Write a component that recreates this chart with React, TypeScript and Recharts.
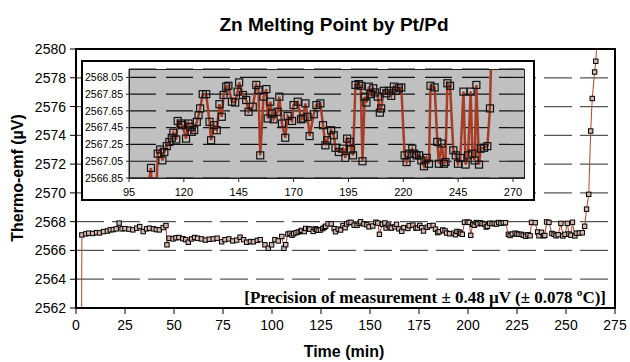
import React from 'react';
import { LineChart, Line, XAxis, YAxis, CartesianGrid } from 'recharts';

// Time (min) and thermo-emf (µV) readings
const timeMin = [
  2.8, 3.0, 5, 6.5, 8.5, 10.5, 12, 14, 16, 17.5, 19, 20.5, 22, 23.5, 25, 27, 29, 31, 32.5, 34.3,
  36, 37.5, 39.5, 41, 42.5, 44.5, 45.9, 46.4, 47.5, 49.5, 51, 52.5, 54.5, 56, 57.3, 59, 60.5, 62,
  64, 66, 68, 70, 72, 74.3, 76, 78, 80, 82, 83.7, 85.5, 87.1, 89, 90.5, 92.5, 94, 96.4, 98.1, 99.8,
  101.5, 103.2, 105, 106.1, 107, 108.1, 109.2, 110.2, 111.1, 112.2, 113.4, 114.5, 115.2, 116.5,
  117.2, 118.7, 119.3, 121.0, 122.1, 122.8, 123.6, 124.7, 125.9, 126.7, 127.4, 128.6, 130.2, 131.7,
  132.4, 133.8, 135.0, 136.2, 137.3, 138.1, 139.3, 140.3, 141.9, 143.4, 144.5, 145.2, 146.9, 148.4,
  149.5, 151.4, 153.0, 154.0, 154.8, 156.3, 157.6, 158.2, 159.4, 160.2, 160.9, 162.7, 163.5, 164.7,
  166.2, 167.3, 169.3, 170.0, 171.9, 173.4, 174.2, 175.4, 176.4, 177.3, 179.2, 180.4, 182.2, 183.4,
  184.5, 185.3, 187.1, 188.3, 189.1, 190.6, 192.6, 193.6, 194.4, 195.6, 196.2, 197.1, 198.2, 199.7,
  200.6, 201.4, 202.4, 203.2, 204.3, 205.0, 206.3, 207.2, 208.4, 209.3, 209.9, 211.1, 212.3, 213.4,
  214.5, 215.7, 216.8, 218.0, 219.1, 220.6, 221.5, 222.6, 224.1, 225.0, 226.0, 227.2, 228.2, 229.4,
  230.6, 231.7, 232.4, 234.3, 235.5, 236.2, 237.5, 238.5, 239.2, 240.1, 241.3, 242.8, 243.9, 244.9,
  246.0, 247.4, 248.4, 249.5, 250.7, 251.5, 252.5, 253.3, 254.5, 255.3, 256.8, 258.3, 259.5, 260.5,
  261.6, 262.6, 263.4, 264.6, 265.2, 266.3,
];

const thermoEmf = [
  2559.0, 2567.08, 2567.15, 2567.2, 2567.18, 2567.24, 2567.22, 2567.31, 2567.35, 2567.43, 2567.45,
  2567.5, 2567.9, 2567.5, 2567.52, 2567.48, 2567.43, 2567.55, 2567.66, 2567.31, 2567.5, 2567.55,
  2567.5, 2567.45, 2567.43, 2567.59, 2567.73, 2566.39, 2566.85, 2566.8, 2566.88, 2566.9, 2566.82,
  2566.75, 2566.57, 2566.8, 2566.9, 2566.85, 2566.8, 2566.72, 2566.78, 2566.8, 2566.85, 2566.6,
  2566.75, 2566.8, 2566.66, 2566.72, 2566.92, 2566.75, 2566.57, 2566.62, 2566.6, 2566.7, 2566.75,
  2566.39, 2566.15, 2566.39, 2566.75, 2566.66, 2566.97, 2566.15, 2566.4, 2567.14, 2567.19, 2567.06,
  2567.16, 2567.23, 2567.28, 2567.33, 2567.39, 2567.31, 2567.53, 2567.50, 2567.48, 2567.32, 2567.50,
  2567.46, 2567.40, 2567.42, 2567.52, 2567.60, 2567.68, 2567.85, 2567.85, 2567.52, 2567.30, 2567.48,
  2567.42, 2567.73, 2567.58, 2567.84, 2567.94, 2567.95, 2567.76, 2567.75, 2567.88, 2567.99, 2567.84,
  2567.78, 2567.64, 2567.70, 2567.96, 2567.90, 2567.12, 2567.82, 2567.91, 2567.56, 2567.76, 2567.62,
  2567.55, 2567.64, 2567.82, 2567.50, 2567.33, 2567.59, 2567.53, 2567.72, 2567.76, 2567.55, 2567.56,
  2567.74, 2567.58, 2567.35, 2567.61, 2567.72, 2567.74, 2567.48, 2567.24, 2567.30, 2567.42, 2567.36,
  2567.21, 2567.16, 2567.20, 2567.09, 2567.32, 2567.28, 2567.19, 2567.12, 2567.96, 2567.97, 2567.95,
  2567.05, 2567.82, 2567.75, 2567.94, 2567.85, 2567.92, 2567.87, 2567.82, 2567.63, 2567.68, 2567.89,
  2567.86, 2567.89, 2567.83, 2567.94, 2567.89, 2567.92, 2567.93, 2567.12, 2567.04, 2567.14, 2567.20,
  2567.14, 2567.12, 2567.12, 2567.06, 2566.99, 2567.09, 2567.02, 2567.95, 2567.93, 2567.28, 2567.02,
  2567.26, 2567.02, 2567.04, 2567.98, 2567.95, 2567.18, 2567.12, 2567.02, 2567.09, 2567.88, 2567.01,
  2567.12, 2567.88, 2567.14, 2567.06, 2567.96, 2567.01, 2567.20, 2567.21, 2567.23, 2567.68, 2568.87,
  2569.90, 2574.30, 2576.56, 2578.40, 2579.15, 2581.5,
];

const mainXTicks = [0, 25, 50, 75, 100, 125, 150, 175, 200, 225, 250, 275];
const mainYTicks = [2562, 2564, 2566, 2568, 2570, 2572, 2574, 2576, 2578, 2580];
const insetXTicks = [95, 120, 145, 170, 195, 220, 245, 270];
const insetYTicks = [2566.85, 2567.05, 2567.25, 2567.45, 2567.65, 2567.85, 2568.05];

const data = timeMin.map((t, i) => ({ t, v: thermoEmf[i] }));

const SANS = "'Liberation Sans', Arial, sans-serif";
const SERIF = "'Liberation Serif', 'Times New Roman', serif";
const LINE = '#B5452B';

const smallSquare = (p: any) => {
  const { cx, cy, index } = p;
  if (cx == null || cy == null || isNaN(cx) || isNaN(cy)) return <g key={`s${index}`} />;
  return (
    <rect key={`s${index}`} x={cx - 2.2} y={cy - 2.2} width={4.4} height={4.4}
      fill="#d9b9b0" stroke="#000" strokeWidth={1} />
  );
};

const bigSquare = (p: any) => {
  const { cx, cy, index } = p;
  if (cx == null || cy == null || isNaN(cx) || isNaN(cy)) return <g key={`b${index}`} />;
  return (
    <rect key={`b${index}`} x={cx - 3.5} y={cy - 3.5} width={7} height={7}
      fill="none" stroke="#111" strokeWidth={1.2} />
  );
};

export default function App() {
  return (
    <div style={{ position: 'absolute', left: 0, top: 0, width: 630, height: 362, background: '#fff' }}>
      <div style={{ position: 'absolute', left: 0, top: 0 }}>
        <LineChart width={630} height={362} data={data} margin={{ top: 49, right: 15, bottom: 24, left: 16 }}>
          <CartesianGrid vertical={false} stroke="#555" strokeWidth={1.3} strokeDasharray="28 8" />
          <XAxis dataKey="t" type="number" domain={[0, 275]} ticks={mainXTicks} allowDataOverflow
            interval={0} height={30} tickSize={6} tickMargin={6}
            tick={{ fill: '#000', fontSize: 14, fontFamily: SANS }}
            axisLine={{ stroke: '#000', strokeWidth: 2 }} tickLine={{ stroke: '#000' }} />
          <YAxis type="number" domain={[2562, 2580]} ticks={mainYTicks} allowDataOverflow
            interval={0} width={60} tickSize={6} tickMargin={4}
            tick={{ fill: '#000', fontSize: 14, fontFamily: SANS }}
            axisLine={{ stroke: '#000', strokeWidth: 2 }} tickLine={{ stroke: '#000' }} />
          <Line dataKey="v" stroke={LINE} strokeWidth={1} dot={smallSquare} isAnimationActive={false} />
        </LineChart>
      </div>
      <div style={{ position: 'absolute', left: 75, top: 48, width: 541, height: 261, border: '2px solid #000', boxSizing: 'border-box' }} />
      <svg width={630} height={362} style={{ position: 'absolute', left: 0, top: 0 }}>
        <text x={334} y={31} textAnchor="middle" fontFamily={SANS} fontWeight="bold" fontSize={19} fill="#000">
          Zn Melting Point by Pt/Pd
        </text>
        <text x={0} y={0} transform="translate(23,178) rotate(-90)" textAnchor="middle" fontFamily={SANS}
          fontWeight="bold" fontSize={16} fill="#000">
          Thermo-emf (µV)
        </text>
        <text x={344} y={357} textAnchor="middle" fontFamily={SANS} fontWeight="bold" fontSize={16} fill="#000">
          Time (min)
        </text>
        <text x={606} y={303} textAnchor="end" fontFamily={SERIF} fontWeight="bold" fontSize={17} fill="#000">
          [Precision of measurement ± 0.48 µV (± 0.078 ºC)]
        </text>
      </svg>
      <div style={{ position: 'absolute', left: 81, top: 60, width: 454, height: 141, border: '2px solid #000', boxSizing: 'border-box', background: '#fff' }}>
        <LineChart width={450} height={137} data={data} margin={{ top: 7, right: 9, bottom: 0, left: 0 }}>
          <CartesianGrid vertical={false} fill="#C0C0C0" stroke="#111" strokeWidth={1.2} strokeDasharray="27 10" />
          <XAxis dataKey="t" type="number" domain={[95, 275]} ticks={insetXTicks} allowDataOverflow
            interval={0} height={21} tickSize={4} tickMargin={6}
            tick={{ fill: '#000', fontSize: 11, fontFamily: SANS }}
            axisLine={{ stroke: '#222', strokeWidth: 1 }} tickLine={{ stroke: '#222' }} />
          <YAxis type="number" domain={[2566.85, 2568.15]} ticks={insetYTicks} allowDataOverflow
            interval={0} width={46} tickSize={3} tickMargin={3}
            tickFormatter={(v: number) => v.toFixed(2)}
            tick={{ fill: '#000', fontSize: 10.5, fontFamily: SANS }}
            axisLine={{ stroke: '#222', strokeWidth: 1 }} tickLine={{ stroke: '#222' }} />
          <Line dataKey="v" stroke="#A83C24" strokeWidth={2.5} dot={bigSquare} isAnimationActive={false} />
        </LineChart>
        <div style={{ position: 'absolute', left: 46, top: 7, width: 396, height: 110, border: '1px solid #222', boxSizing: 'border-box', pointerEvents: 'none' }} />
      </div>
    </div>
  );
}
